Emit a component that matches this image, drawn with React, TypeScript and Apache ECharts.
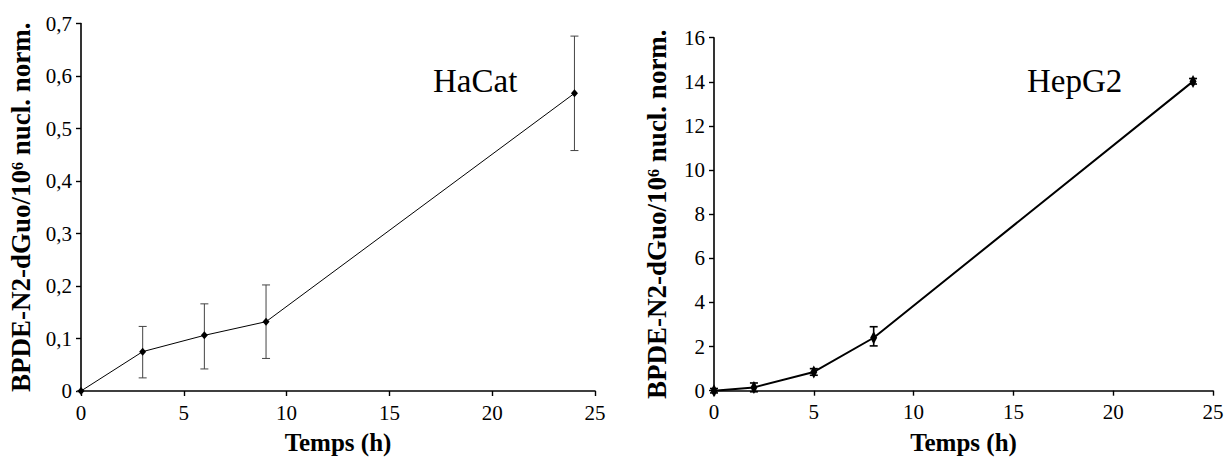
import React, { useEffect, useRef } from "react";
import * as echarts from "echarts";

const hacatTime = [0, 3, 6, 9, 24];
const hacatValue = [0, 0.075, 0.106, 0.132, 0.567];
const hacatLow = [0, 0.025, 0.042, 0.062, 0.458];
const hacatHigh = [0, 0.123, 0.166, 0.202, 0.676];

const hepTime = [0, 2, 5, 8, 24];
const hepValue = [0, 0.15, 0.85, 2.4, 14.02];
const hepLow = [-0.1, -0.05, 0.7, 2.03, 13.9];
const hepHigh = [0.1, 0.35, 1.0, 2.9, 14.15];

const xTicks = { min: 0, max: 25, interval: 5 };
const hacatY = { min: 0, max: 0.7, interval: 0.1 };
const hepY = { min: 0, max: 16, interval: 2 };

const yTitle = "BPDE-N2-dGuo/10\u2076 nucl. norm.";
const xTitle = "Temps (h)";

const FONT = "Liberation Serif";

function errRender(color: string, lw: number, cap: number) {
  return (params: any, api: any) => {
    const x = api.value(0);
    const lo = api.value(1);
    const hi = api.value(2);
    const p1 = api.coord([x, hi]);
    const p2 = api.coord([x, lo]);
    const style = { stroke: color, lineWidth: lw };
    return {
      type: "group",
      children: [
        { type: "line", shape: { x1: p1[0], y1: p1[1], x2: p2[0], y2: p2[1] }, style },
        { type: "line", shape: { x1: p1[0] - cap, y1: p1[1], x2: p1[0] + cap, y2: p1[1] }, style },
        { type: "line", shape: { x1: p2[0] - cap, y1: p2[1], x2: p2[0] + cap, y2: p2[1] }, style },
      ],
    };
  };
}

function buildOption(cfg: any) {
  return {
    animation: false,
    backgroundColor: "#fff",
    grid: [
      {
        left: cfg.grid[0],
        right: cfg.grid[1],
        top: cfg.grid[2],
        bottom: cfg.grid[3],
        containLabel: false,
        outerBoundsMode: "none",
      },
    ],
    xAxis: {
      type: "value",
      gridIndex: 0,
      ...xTicks,
      name: xTitle,
      nameLocation: "middle",
      nameGap: 39,
      nameTextStyle: { fontFamily: FONT, fontWeight: "bold", fontSize: 25, color: "#000" },
      axisLine: { show: true, onZero: false, lineStyle: { color: "#000", width: 1.6 } },
      axisTick: { show: true, length: 5, lineStyle: { color: "#000", width: 1.4 } },
      axisLabel: { fontFamily: FONT, fontSize: 21, color: "#000", margin: 11 },
      splitLine: { show: false },
    },
    yAxis: {
      type: "value",
      gridIndex: 0,
      ...cfg.yRange,
      name: yTitle,
      nameLocation: "middle",
      nameRotate: 90,
      nameGap: 44,
      nameTextStyle: { fontFamily: FONT, fontWeight: "bold", fontSize: 27, color: "#000" },
      axisLine: { show: true, lineStyle: { color: "#000", width: 1.6 } },
      axisTick: { show: true, length: 5, lineStyle: { color: "#000", width: 1.4 } },
      axisLabel: {
        fontFamily: FONT,
        fontSize: 21,
        color: "#000",
        margin: 9,
        formatter: (v: number) => {
          const s = String(Math.round(v * 10) / 10);
          return cfg.comma ? s.replace(".", ",") : s;
        },
      },
      splitLine: { show: false },
    },
    graphic: [
      {
        type: "text",
        left: cfg.labelPos[0],
        top: cfg.labelPos[1],
        style: { text: cfg.label, fontFamily: FONT, fontSize: 33, fill: "#000" },
      },
    ],
    series: [
      {
        type: "custom",
        renderItem: errRender(cfg.errColor, cfg.errWidth, 4),
        encode: { x: 0, y: [1, 2] },
        data: cfg.time.map((t: number, i: number) => [t, cfg.low[i], cfg.high[i]]),
        z: 1,
      },
      {
        type: "line",
        data: cfg.time.map((t: number, i: number) => [t, cfg.value[i]]),
        lineStyle: { color: "#000", width: cfg.lineWidth },
        itemStyle: { color: "#000" },
        symbol: "diamond",
        symbolSize: cfg.symbolSize,
        z: 3,
      },
    ],
  };
}

const panels = [
  {
    left: 0,
    width: 616,
    grid: [81, 21, 23.5, 68],
    yRange: hacatY,
    comma: true,
    label: "HaCat",
    labelPos: [433, 64],
    time: hacatTime,
    value: hacatValue,
    low: hacatLow,
    high: hacatHigh,
    errColor: "#444",
    errWidth: 1,
    lineWidth: 1,
    symbolSize: [7, 8],
  },
  {
    left: 616,
    width: 615,
    grid: [98, 18, 37.7, 68.3],
    yRange: hepY,
    comma: false,
    label: "HepG2",
    labelPos: [411, 64],
    time: hepTime,
    value: hepValue,
    low: hepLow,
    high: hepHigh,
    errColor: "#000",
    errWidth: 1.6,
    lineWidth: 2,
    symbolSize: [7, 13],
  },
];

function Panel({ cfg }: { cfg: any }) {
  const ref = useRef<HTMLDivElement>(null);
  useEffect(() => {
    if (!ref.current) return;
    const chart = echarts.init(ref.current, null, { renderer: "svg" });
    chart.setOption(buildOption(cfg) as any);
    return () => chart.dispose();
  }, []);
  return (
    <div
      ref={ref}
      style={{ position: "fixed", left: cfg.left, top: 0, width: cfg.width, height: 459 }}
    />
  );
}

export default function App() {
  return (
    <div>
      {panels.map((p, i) => (
        <Panel key={i} cfg={p} />
      ))}
    </div>
  );
}
